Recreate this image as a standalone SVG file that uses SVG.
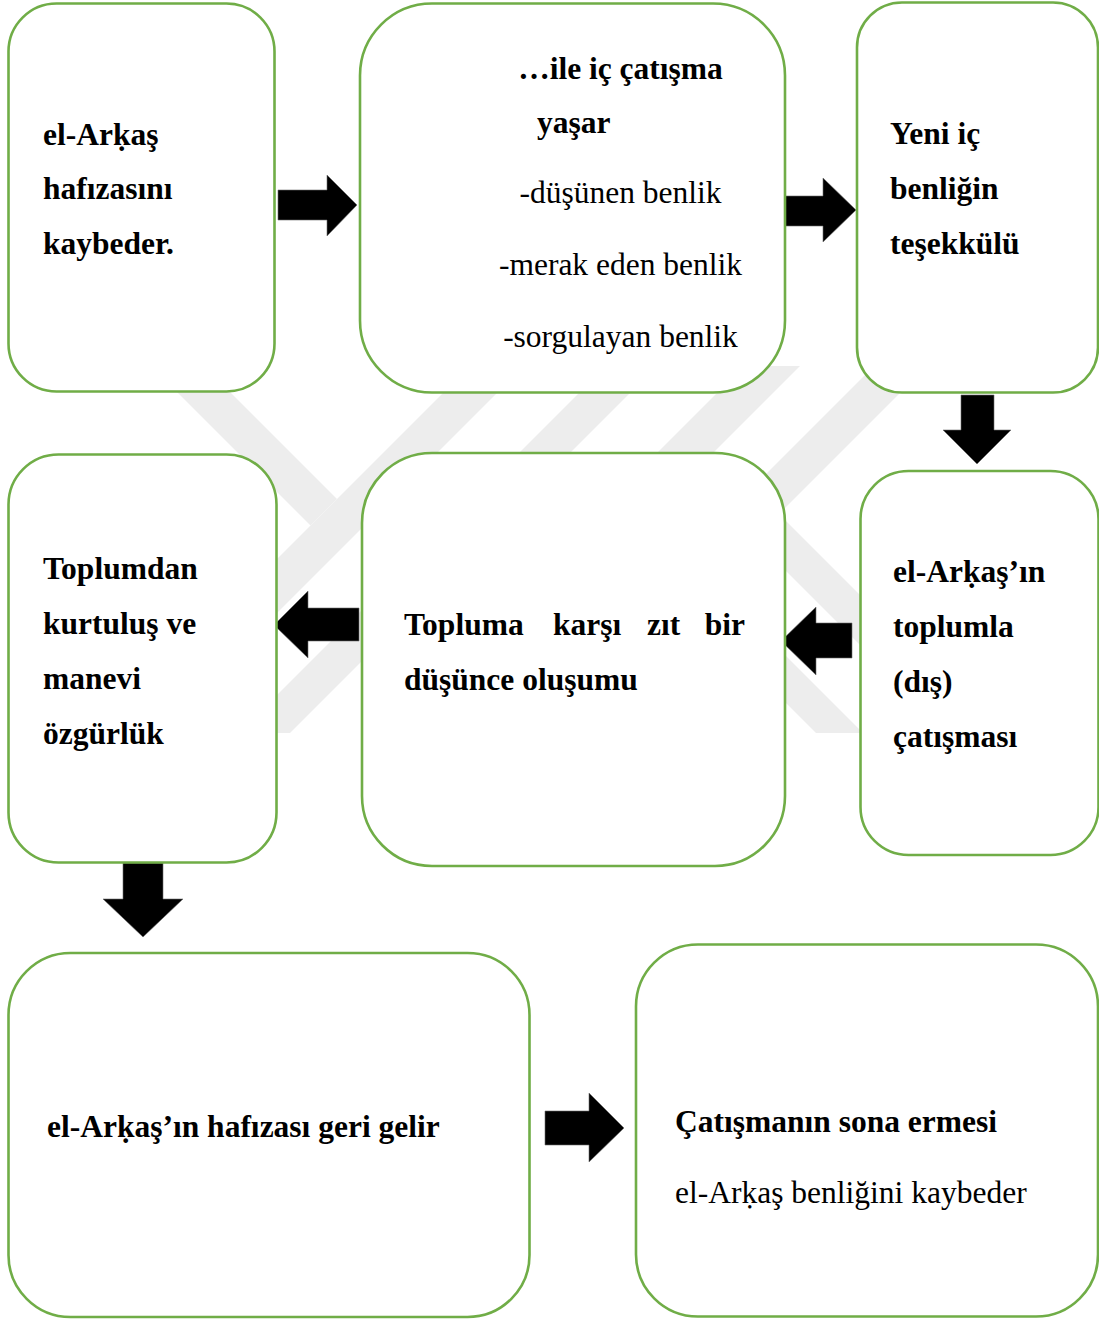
<svg xmlns="http://www.w3.org/2000/svg" width="1099" height="1319" viewBox="0 0 1099 1319">
  <style>
    .wm { fill: #ededed; }
    .box { fill: #ffffff; stroke: #70ad47; stroke-width: 2.6; }
    .arrow { fill: #000000; stroke: #6b6b6b; stroke-width: 0.6; }
    .t { font-family: "Liberation Serif", "DejaVu Serif", serif; font-size: 31.5px; fill: #000000; }
    .b { font-weight: bold; }
  </style>
  <rect x="0" y="0" width="1099" height="1319" fill="#ffffff"/>
  <g id="watermark">
    <polygon class="wm" points="151,366 204,366 337,499 310.5,525.5"/>
    <polygon class="wm" points="470,366 524,366 157,733 103,733"/>
    <polygon class="wm" points="606,366 657,366 290,733 239,733"/>
    <polygon class="wm" points="744,366 800,366 433,733 377,733"/>
    <polygon class="wm" points="874,366 927,366 560,733 507,733"/>
    <polygon class="wm" points="695,480 745,480 998,733 948,733"/>
    <polygon class="wm" points="643,560 690,560 863,733 816,733"/>
  </g>
  <g id="connectors">
    <polygon class="arrow" points="278,190 327,190 327,175 357,205 327,236 327,220 278,220"/>
    <polygon class="arrow" points="785,196 823,196 823,178 856,210 823,242 823,226 785,226"/>
    <polygon class="arrow" points="961,395 994,395 994,430 1011,430 977,464 943,430 961,430"/>
    <polygon class="arrow" points="852,623 816,623 816,607 781,641 816,675 816,658 852,658"/>
    <polygon class="arrow" points="359,608 308,608 308,591 274,625 308,658 308,641 359,641"/>
    <polygon class="arrow" points="123,863 163,863 163,899 183,899 143,937 103,899 123,899"/>
    <polygon class="arrow" points="545,1111 589,1111 589,1093 624,1128 589,1162 589,1145 545,1145"/>
  </g>
  <g id="node1">
    <rect class="box" x="8.5" y="3.5" width="266" height="388" rx="48" ry="48"/>
    <text class="t b" x="43" y="145">el-Arḳaş</text>
    <text class="t b" x="43" y="199">hafızasını</text>
    <text class="t b" x="43" y="254">kaybeder.</text>
  </g>
  <g id="node2">
    <rect class="box" x="360" y="3.5" width="425" height="389" rx="72" ry="72"/>
    <text class="t b" x="620.5" y="79" text-anchor="middle">…ile iç çatışma</text>
    <text class="t b" x="537" y="133">yaşar</text>
    <text class="t" x="620.5" y="203" text-anchor="middle">-düşünen benlik</text>
    <text class="t" x="620.5" y="275" text-anchor="middle">-merak eden benlik</text>
    <text class="t" x="620.5" y="347" text-anchor="middle">-sorgulayan benlik</text>
  </g>
  <g id="node3">
    <rect class="box" x="857" y="2.5" width="241" height="390" rx="45" ry="45"/>
    <text class="t b" x="890" y="144">Yeni iç</text>
    <text class="t b" x="890" y="199">benliğin</text>
    <text class="t b" x="890" y="254">teşekkülü</text>
  </g>
  <g id="node4">
    <rect class="box" x="860.5" y="471" width="238" height="384" rx="48" ry="48"/>
    <text class="t b" x="893" y="582">el-Arḳaş’ın</text>
    <text class="t b" x="893" y="637">toplumla</text>
    <text class="t b" x="893" y="692">(dış)</text>
    <text class="t b" x="893" y="747">çatışması</text>
  </g>
  <g id="node5">
    <rect class="box" x="362" y="453" width="423" height="413" rx="70" ry="70"/>
    <text class="t b" y="635"><tspan x="404">Topluma</tspan><tspan x="553">karşı</tspan><tspan x="647">zıt</tspan><tspan x="745" text-anchor="end">bir</tspan></text>
    <text class="t b" x="404" y="690">düşünce oluşumu</text>
  </g>
  <g id="node6">
    <rect class="box" x="8.5" y="454.5" width="268" height="408" rx="50" ry="50"/>
    <text class="t b" x="43" y="579">Toplumdan</text>
    <text class="t b" x="43" y="634">kurtuluş ve</text>
    <text class="t b" x="43" y="689">manevi</text>
    <text class="t b" x="43" y="744">özgürlük</text>
  </g>
  <g id="node7">
    <rect class="box" x="8.5" y="953" width="521" height="364" rx="62" ry="62"/>
    <text class="t b" x="47" y="1137">el-Arḳaş’ın hafızası geri gelir</text>
  </g>
  <g id="node8">
    <rect class="box" x="636" y="944.5" width="462" height="372" rx="62" ry="62"/>
    <text class="t b" x="675" y="1132">Çatışmanın sona ermesi</text>
    <text class="t" x="675" y="1203">el-Arḳaş benliğini kaybeder</text>
  </g>
</svg>
